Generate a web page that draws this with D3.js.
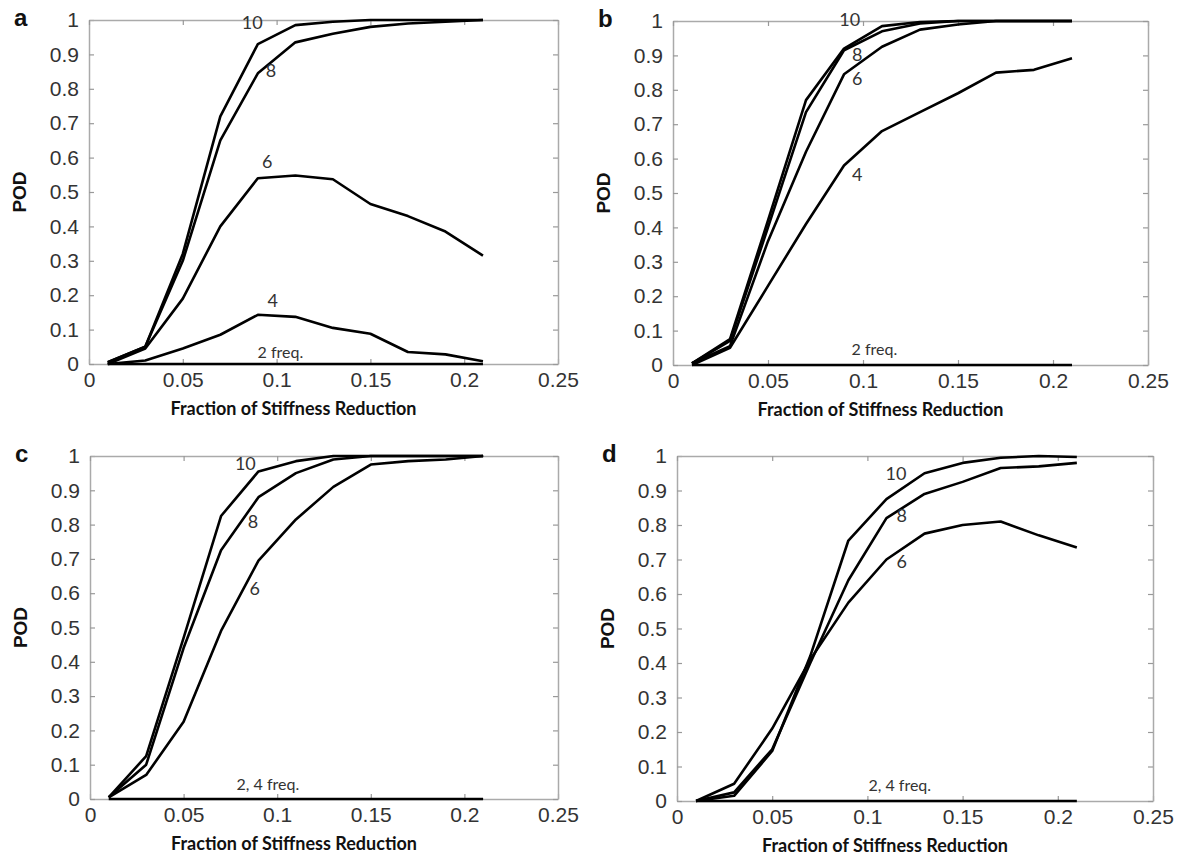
<!DOCTYPE html>
<html>
<head>
<meta charset="utf-8">
<script src="https://cdn.jsdelivr.net/npm/d3@7"></script>
<style>
  body { margin: 0; background: #fff; }
  svg { display: block; }
  .tick text { font-family: "Liberation Sans", Arial, sans-serif; font-size: 21px; fill: #333; }
  .frame path.domain { stroke: #aaa; stroke-width: 1.5; }
  .frame .tick line { stroke: #999; stroke-width: 1.2; }
</style>
</head>
<body>
<svg id="chart" width="1181" height="864"></svg>
<script>
// x positions of the simulated damage levels
const stiffness = [0.01, 0.03, 0.05, 0.07, 0.09, 0.11, 0.13, 0.15, 0.17, 0.19, 0.21];
const xTicks = [0, 0.05, 0.1, 0.15, 0.2, 0.25];
const yTicks = [0, 0.1, 0.2, 0.3, 0.4, 0.5, 0.6, 0.7, 0.8, 0.9, 1];

// panel a
const podA10 = [0.005, 0.05, 0.32, 0.72, 0.93, 0.985, 0.995, 1, 1, 1, 1];
const podA8  = [0.005, 0.05, 0.30, 0.65, 0.845, 0.935, 0.96, 0.98, 0.99, 0.995, 1];
const podA6  = [0, 0.045, 0.19, 0.40, 0.54, 0.548, 0.537, 0.465, 0.43, 0.385, 0.315];
const podA4  = [0, 0.01, 0.045, 0.085, 0.143, 0.137, 0.105, 0.088, 0.035, 0.028, 0.008];
const podA2  = [0, 0, 0, 0, 0, 0, 0, 0, 0, 0, 0];

// panel b
const podB10 = [0.005, 0.075, 0.42, 0.77, 0.92, 0.985, 0.997, 1, 1, 1, 1];
const podB8  = [0.005, 0.07, 0.40, 0.735, 0.915, 0.97, 0.993, 1, 1, 1, 1];
const podB6  = [0.005, 0.055, 0.36, 0.62, 0.845, 0.925, 0.975, 0.99, 1, 1, 1];
const podB4  = [0, 0.05, 0.23, 0.41, 0.58, 0.68, 0.735, 0.79, 0.85, 0.858, 0.892];
const podB2  = [0, 0, 0, 0, 0, 0, 0, 0, 0, 0, 0];

// panel c
const podC10 = [0.005, 0.125, 0.47, 0.825, 0.955, 0.985, 1, 1, 1, 1, 1];
const podC8  = [0.005, 0.10, 0.44, 0.725, 0.88, 0.95, 0.99, 1, 1, 1, 1];
const podC6  = [0.005, 0.07, 0.225, 0.49, 0.695, 0.815, 0.91, 0.975, 0.985, 0.99, 1];
const podC24 = [0, 0, 0, 0, 0, 0, 0, 0, 0, 0, 0];

// panel d
const podD10 = [0, 0.015, 0.145, 0.42, 0.755, 0.875, 0.95, 0.98, 0.995, 1, 0.997];
const podD8  = [0, 0.025, 0.15, 0.40, 0.64, 0.82, 0.89, 0.925, 0.965, 0.97, 0.98];
const podD6  = [0, 0.05, 0.21, 0.41, 0.575, 0.70, 0.775, 0.80, 0.81, 0.77, 0.735];
const podD24 = [0, 0, 0, 0, 0, 0, 0, 0, 0, 0, 0];

// curve labels: text, x, y (data units)
const labelsA = [["10", 0.087, 0.975], ["8", 0.097, 0.835], ["6", 0.095, 0.57], ["4", 0.098, 0.165], ["2 freq.", 0.102, 0.018]];
const labelsB = [["10", 0.093, 0.985], ["8", 0.097, 0.885], ["6", 0.097, 0.815], ["4", 0.097, 0.535], ["2 freq.", 0.106, 0.03]];
const labelsC = [["10", 0.083, 0.96], ["8", 0.087, 0.79], ["6", 0.088, 0.595], ["2, 4 freq.", 0.095, 0.025]];
const labelsD = [["10", 0.115, 0.93], ["8", 0.118, 0.81], ["6", 0.118, 0.675], ["2, 4 freq.", 0.117, 0.03]];

const panels = [
  {letter: "a", box: [89, 20, 558, 364], series: [podA10, podA8, podA6, podA4, podA2], labels: labelsA},
  {letter: "b", box: [673, 21, 1148, 365], series: [podB10, podB8, podB6, podB4, podB2], labels: labelsB},
  {letter: "c", box: [90, 456, 558, 799], series: [podC10, podC8, podC6, podC24], labels: labelsC},
  {letter: "d", box: [677, 456, 1153, 801], series: [podD10, podD8, podD6, podD24], labels: labelsD}
];

const svg = d3.select("#chart");

panels.forEach(p => {
  const [x0, y0, x1, y1] = p.box;
  const x = d3.scaleLinear().domain([0, 0.25]).range([x0, x1]);
  const y = d3.scaleLinear().domain([0, 1]).range([y1, y0]);
  const fmt = d => String(+d.toFixed(2));

  const g = svg.append("g");

  // frame with inward ticks on all four sides
  g.append("g").attr("class", "frame")
    .attr("transform", `translate(0,${y1})`)
    .call(d3.axisBottom(x).tickValues(xTicks).tickFormat(fmt).tickSize(-5).tickSizeOuter(0).tickPadding(8));
  g.append("g").attr("class", "frame")
    .attr("transform", `translate(${x0},0)`)
    .call(d3.axisLeft(y).tickValues(yTicks).tickFormat(fmt).tickSize(-5).tickSizeOuter(0).tickPadding(10));
  g.append("g").attr("class", "frame")
    .attr("transform", `translate(0,${y0})`)
    .call(d3.axisTop(x).tickValues(xTicks).tickFormat("").tickSize(-5).tickSizeOuter(0));
  g.append("g").attr("class", "frame")
    .attr("transform", `translate(${x1},0)`)
    .call(d3.axisRight(y).tickValues(yTicks).tickFormat("").tickSize(-5).tickSizeOuter(0));

  // curves
  const line = d3.line()
    .x((d, i) => x(stiffness[i]))
    .y(d => y(d));
  g.selectAll(".curve")
    .data(p.series)
    .enter()
    .append("path")
    .attr("class", "curve")
    .attr("d", line)
    .attr("fill", "none")
    .attr("stroke", "#000")
    .attr("stroke-width", 2.6)
    .attr("stroke-linejoin", "round");

  // curve labels
  g.selectAll(".lbl")
    .data(p.labels)
    .enter()
    .append("text")
    .attr("class", "lbl")
    .attr("x", d => x(d[1]))
    .attr("y", d => y(d[2]))
    .attr("text-anchor", "middle")
    .attr("font-family", "Lato, 'Open Sans', sans-serif")
    .attr("font-size", d => d[0].includes("freq") ? 16 : 18)
    .attr("fill", "#333")
    .text(d => d[0]);

  // axis titles
  g.append("text")
    .attr("x", (x0 + x1) / 2 - 30)
    .attr("y", y1 + 51)
    .attr("text-anchor", "middle")
    .attr("font-family", "Lato, 'Open Sans', sans-serif")
    .attr("font-weight", "bold")
    .attr("font-size", 18)
    .attr("fill", "#111")
    .text("Fraction of Stiffness Reduction");

  g.append("text")
    .attr("transform", `translate(${x0 - 63},${(y0 + y1) / 2}) rotate(-90)`)
    .attr("text-anchor", "middle")
    .attr("font-family", "'Liberation Sans', Arial, sans-serif")
    .attr("font-weight", "bold")
    .attr("font-size", 19)
    .attr("fill", "#111")
    .text("POD");

  // panel letter
  g.append("text")
    .attr("x", x0 - 75)
    .attr("y", y0 + 6)
    .attr("font-family", "'Liberation Sans', Arial, sans-serif")
    .attr("font-weight", "bold")
    .attr("font-size", 24)
    .attr("fill", "#111")
    .text(p.letter);
});
</script>
</body>
</html>
